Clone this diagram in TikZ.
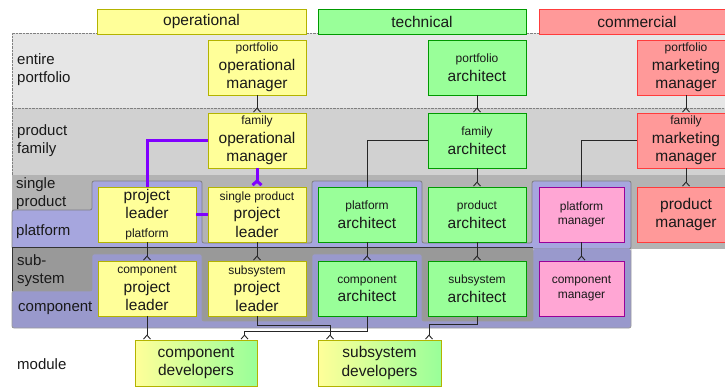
\documentclass[tikz,border=0pt]{standalone}
\usepackage{fontspec}
\setmainfont{Liberation Sans}
\usetikzlibrary{arrows.meta}
\definecolor{opfill}{RGB}{255,255,153}
\definecolor{opline}{RGB}{179,179,0}
\definecolor{techfill}{RGB}{153,255,153}
\definecolor{techline}{RGB}{0,153,0}
\definecolor{comfill}{RGB}{255,153,153}
\definecolor{comline}{RGB}{255,60,60}
\definecolor{pmfill}{RGB}{255,166,212}
\definecolor{pmline}{RGB}{153,0,153}
\definecolor{bandA}{RGB}{230,230,230}
\definecolor{bandB}{RGB}{209,209,209}
\definecolor{bandC}{RGB}{179,179,179}
\definecolor{bandD}{RGB}{153,153,153}
\definecolor{platfill}{RGB}{166,166,222}
\definecolor{compfill}{RGB}{153,153,204}
\definecolor{leadline}{RGB}{128,0,255}
\newcommand\rolefont{\fontsize{15.5}{18.5}\selectfont}
\newcommand\subrole{\fontsize{12}{14.5}\selectfont}
\tikzset{
  role/.style={draw, line width=0.8pt, minimum width=98pt, minimum height=55pt, align=center, font=\rolefont, inner sep=1pt, text=black!90},
  op/.style={role, fill=opfill, draw=opline},
  tech/.style={role, fill=techfill, draw=techline},
  com/.style={role, fill=comfill, draw=comline},
  pm/.style={role, fill=pmfill, draw=pmline, minimum width=85pt, font=\subrole},
  dev/.style={role, left color=opfill, right color=techfill, draw=opline, minimum height=46pt},
  head/.style={draw, line width=0.8pt, minimum height=25pt, font=\rolefont, text=black!90},
  tier/.style={anchor=west, align=left, inner sep=1pt, font=\fontsize{15}{18}\selectfont, text=black!90},
  link/.style={draw=black!85, line width=0.9pt},
  many/.style={link, -{Straight Barb[reversed,length=4pt,width=7pt]}},
  lead/.style={draw=leadline, line width=3pt},
}

\begin{document}
\begin{tikzpicture}[x=1pt, y=-1pt]
		%%%%% START %%%%%
		\useasboundingbox (0,0) rectangle (725,387);
		
		% portfolio and family levels
		\fill[bandA] (12,33) rectangle (740,108);
		\fill[bandB] (12,108) rectangle (740,175);
		\draw[gray, densely dotted] (740,33) -- (12,33) -- (12,175);
		\draw[gray, densely dotted] (12,108) -- (740,108) (12,175) -- (740,175);
		
		% single product / platform
		\fill[bandC] (12,175) rectangle (740,249);
		\draw[gray, line width=0.8pt, fill=platfill, rounded corners=2pt] (12,210) -- (92,210) -- (92,181) -- (202,181) -- (202,243) -- (312,243) -- (312,181) -- (422,181) -- (422,243) -- (532,243) -- (532,181) -- (631,181) -- (631,249) -- (12,249) -- cycle;
		
		% sub-system / component
		\fill[bandD] (12,248) rectangle (533,328);
		\fill[compfill, rounded corners=2pt] (12,291) -- (92,291) -- (92,254) -- (202,254) -- (202,321) -- (312,321) -- (312,254) -- (422,254) -- (422,321) -- (533,321) -- (533,249) -- (631,249) -- (631,328) -- (12,328) -- cycle;
		\draw[gray!80, line width=0.8pt, rounded corners=2pt] (631,249) -- (631,328) -- (12,328) -- (12,291) -- (92,291) -- (92,254) -- (202,254) -- (202,321) -- (312,321) -- (312,254) -- (422,254) -- (422,321) -- (533,321) -- (533,249);
		\draw[black!80, line width=1pt] (12,291) -- (12,248) -- (533,248);
		
		% headers
		\node[head, fill=opfill, draw=opline, minimum width=209pt] (hop) at (201.5,21.5) {operational};
		\node[head, fill=techfill, draw=techline, minimum width=208pt] (htech) at (422,21.5) {technical};
		\node[head, fill=comfill, draw=comline, minimum width=196pt] (hcom) at (637,21.5) {commercial};
		
		% levels
		\node[tier] (tpf) at (16,70) {entire\\portfolio};
		\node[tier] (tfm) at (16,140.5) {product\\family};
		\node[tier] (tsp) at (15,193.5) {single\\product};
		\node[tier] (tpl) at (15,232) {platform};
		\node[tier] (tss) at (16,271) {sub-\\system};
		\node[tier] (tcp) at (17,308) {component};
		\node[tier] (tmd) at (16,364) {module};
		
		% operational
		\node[op] (pfop) at (257,67.5) {{\subrole portfolio}\\operational\\manager};
		\node[op] (fmop) at (257,140.5) {{\subrole family}\\operational\\manager};
		\node[op] (plpf) at (147,214.5) {project\\leader\\{\subrole platform}};
		\node[op] (splead) at (257,214.5) {{\subrole single product}\\project\\leader};
		\node[op] (cplead) at (147,288.5) {{\subrole component}\\project\\leader};
		\node[op] (sslead) at (257,288.5) {{\subrole subsystem}\\project\\leader};
		
		% technical
		\node[tech] (pfarch) at (477,67.5) {{\subrole portfolio}\\architect};
		\node[tech] (fmarch) at (477,140.5) {{\subrole family}\\architect};
		\node[tech] (plarch) at (367,214.5) {{\subrole platform}\\architect};
		\node[tech] (prarch) at (477,214.5) {{\subrole product}\\architect};
		\node[tech] (cparch) at (367,288.5) {{\subrole component}\\architect};
		\node[tech] (ssarch) at (477,288.5) {{\subrole subsystem}\\architect};
		
		% commercial
		\node[com] (pfmkt) at (686,67.5) {{\subrole portfolio}\\marketing\\manager};
		\node[com] (fmmkt) at (686,140.5) {{\subrole family}\\marketing\\manager};
		\node[com] (prman) at (686,214.5) {product\\manager};
		\node[pm] (plman) at (581.5,214.5) {platform\\manager};
		\node[pm] (cpman) at (581.5,288.5) {component\\manager};
		
		% developers
		\node[dev, minimum width=122pt] (cpdev) at (196,363) {component\\developers};
		\node[dev, minimum width=123pt] (ssdev) at (379.5,363) {subsystem\\developers};
		
		% connections
		\draw[many] (pfop) -- (fmop);
		\draw[many] (pfarch) -- (fmarch);
		\draw[many] (pfmkt) -- (fmmkt);
		\draw[lead] (fmop.west) -| (plpf.north);
		\draw[lead, -{Straight Barb[reversed,length=4pt,width=9pt]}] (fmop) -- (splead);
		\draw[lead] (plpf) -- (splead);
		\draw[link] (fmarch.west) -| (plarch.north);
		\draw[many] (fmarch) -- (prarch);
		\draw[link] (fmmkt.west) -| (plman.north);
		\draw[many] (fmmkt) -- (prman);
		\draw[many] (plpf) -- (cplead);
		\draw[many] (splead) -- (sslead);
		\draw[many] (plarch) -- (cparch);
		\draw[many] (prarch) -- (ssarch);
		\draw[many] (plman) -- (cpman);
		\draw[many] (cplead) -- (cplead |- cpdev.north);
		\draw[many] (sslead.south) -- ++(0,9) -| ([xshift=-49.5pt]ssdev.north);
		\draw[many] (cparch.south) -- ++(0,15.5) -| ([xshift=48.5pt]cpdev.north);
		\draw[many] (ssarch.south) -- ++(0,8) -| ([xshift=49.5pt]ssdev.north);
		%%%%% END %%%%%
\end{tikzpicture}
\end{document}
